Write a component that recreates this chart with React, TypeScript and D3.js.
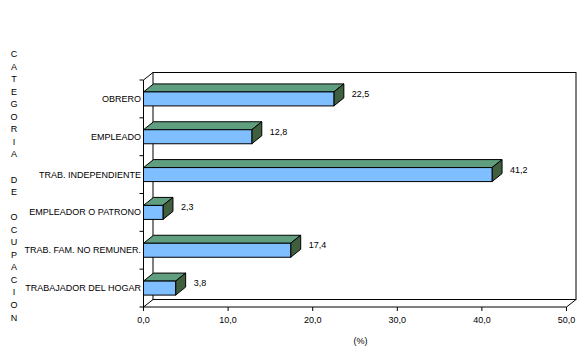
import React from 'react';
import * as d3 from 'd3';

// Categoría de ocupación (%)
const categories = [
  'OBRERO',
  'EMPLEADO',
  'TRAB. INDEPENDIENTE',
  'EMPLEADOR O PATRONO',
  'TRAB. FAM. NO REMUNER.',
  'TRABAJADOR DEL HOGAR',
];
const values = [22.5, 12.8, 41.2, 2.3, 17.4, 3.8];
const xTicks = [0, 10, 20, 30, 40, 50];
const axisTitle = 'CATEGORIA DE OCUPACION';

const width = 587;
const height = 354;
const font = '"Liberation Sans", Arial, sans-serif';

export default function App() {
  const x = d3.scaleLinear().domain([0, 50]).range([143.5, 566.5]);
  const y = d3.scaleBand().domain(categories).range([80, 307]).padding(0);

  // 3D depth of walls and bars
  const wdx = 9.5;
  const wdy = -7.5;
  const bdx = 10;
  const bdy = -8;
  const barH = 14;

  const x0 = x(0);
  const x1 = x(50);
  const yTop = y.range()[0];
  const yBot = y.range()[1];
  const fmt = (v: number) => v.toFixed(1).replace('.', ',');

  return (
    <svg width={width} height={height} style={{ position: 'absolute', left: 0, top: 0, background: '#fff' }}>
      {/* back wall */}
      <rect x={x0 + wdx} y={yTop + wdy} width={x1 - x0} height={yBot - yTop} fill="#fff" stroke="#000" strokeWidth={1} />
      {/* side wall / floor edges */}
      <line x1={x0} y1={yTop} x2={x0 + wdx} y2={yTop + wdy} stroke="#000" />
      <line x1={x0} y1={yBot} x2={x0 + wdx} y2={yBot + wdy} stroke="#000" />
      <line x1={x1} y1={yBot} x2={x1 + wdx} y2={yBot + wdy} stroke="#000" />
      <line x1={x0} y1={yTop} x2={x0} y2={yBot} stroke="#000" />
      <line x1={x0} y1={yBot} x2={x1} y2={yBot} stroke="#000" />

      {/* category ticks */}
      {[...categories.map((c) => y(c) as number), yBot].map((t, i) => (
        <line key={'ct' + i} x1={x0 - 4} x2={x0} y1={t} y2={t} stroke="#000" />
      ))}

      {/* x ticks */}
      {xTicks.map((t) => (
        <g key={'xt' + t}>
          <line x1={x(t)} x2={x(t)} y1={yBot} y2={yBot + 4} stroke="#000" />
          <text x={x(t)} y={320} textAnchor="middle" dominantBaseline="central" fontFamily={font} fontSize={9}>
            {fmt(t)}
          </text>
        </g>
      ))}

      {/* bars */}
      {categories.map((c, i) => {
        const cy = (y(c) as number) + y.bandwidth() / 2;
        const top = cy - barH / 2;
        const bot = cy + barH / 2;
        const xe = x(values[i]);
        const topFace = `M${x0},${top} L${x0 + bdx},${top + bdy} L${xe + bdx},${top + bdy} L${xe},${top} Z`;
        const sideFace = `M${xe},${top} L${xe + bdx},${top + bdy} L${xe + bdx},${bot + bdy} L${xe},${bot} Z`;
        return (
          <g key={c}>
            <path d={topFace} fill="#5f9f7f" stroke="#000" strokeWidth={1} strokeLinejoin="round" />
            <path d={sideFace} fill="#3f5f3f" stroke="#000" strokeWidth={1} strokeLinejoin="round" />
            <rect x={x0} y={top} width={xe - x0} height={barH} fill="#7fbfff" stroke="#000" strokeWidth={1} />
            <text x={xe + 18} y={cy - 5} dominantBaseline="central" fontFamily={font} fontSize={9}>
              {fmt(values[i])}
            </text>
            <text x={141} y={cy} textAnchor="end" dominantBaseline="central" fontFamily={font} fontSize={9}>
              {c}
            </text>
          </g>
        );
      })}

      {/* x axis title */}
      <text x={360.5} y={341} textAnchor="middle" dominantBaseline="central" fontFamily={font} fontSize={9}>
        (%)
      </text>

      {/* vertical stacked title */}
      <text fontFamily={font} fontSize={9} textAnchor="middle">
        {axisTitle.split('').map((ch, i) => (
          <tspan key={i} x={14} y={57 + i * 12.55}>
            {ch === ' ' ? '\u00a0' : ch}
          </tspan>
        ))}
      </text>
    </svg>
  );
}
